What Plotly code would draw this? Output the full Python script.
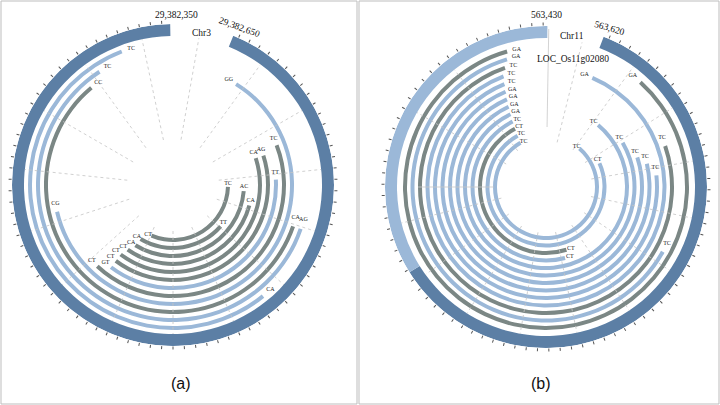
import plotly.graph_objects as go

# ---------------- data : panel (a) Chr3 ----------------
a_track = [1, 2, 3, 4, 5, 6, 7, 8, 9, 10, 11, 12]            # 1 = innermost track
a_type = ["G", "G", "G", "G", "G", "G", "L", "G", "L", "G", "L", "L"]
a_start = [92, 131, 95, 105, 72, 72, 87, 69, 32, 109, 109, 141]   # degrees, clockwise from north
a_end = [203, 211, 212, 215, 217, 217, 217, 223, 257, 320, 327, 339]
a_label_start = ["TC", "TT", "AC", "CA", "CA", "AG", "TT", "TC", "GG", "CA", "AG", "CA"]
a_label_end = ["CT", "CA", "CA", "CT", "CT", "CT", "GT", "CT", "CG", "CC", "TC", "TC"]
a_ring = [22, 359]                                 # chromosome segment (degrees)
a_ring_type = ["D"]
a_texts = ["29,382,350", "29,382,650", "Chr3"]

# ---------------- data : panel (b) Chr11 ----------------
b_track = [1, 2, 3, 4, 5, 6, 7, 8, 9, 10, 11, 12, 13]
b_type = ["L", "L", "G", "L", "L", "L", "L", "L", "L", "L", "G", "L", "G"]
b_start = [41, 66, 162, 165, 40, 60, 72, 77, 84, 23, 71, 119, 42]
b_end = [330, 331, 332, 333, 334, 335, 336, 337, 338, 339, 341, 343, 344]
b_label_start = ["TC", "CT", "CT", "CT", "TC", "TC", "TC", "TC", "TC", "GA", "TC", "TC", "GA"]
b_label_end = ["TC", "TC", "CT", "TC", "GA", "GA", "GA", "GA", "TC", "TC", "TC", "GA", "GA"]
b_ring_start = [21, 238]
b_ring_end = [238, 360.5]
b_ring_type = ["D", "L"]
b_texts = ["563,430", "563,620", "Chr11", "LOC_Os11g02080"]

# ---------------- styles ----------------
COL = {"G": "#7b8785", "L": "#9bb8d8", "D": "#5c7fa5"}
W, H = 720, 405
R = 161
RING_IN = 149
SERIF = "Liberation Serif"

fig = go.Figure()


def add_panel(sub, tracks, types, starts, ends, lab_s, lab_e, r0, step,
              ring_s, ring_e, ring_t, spokes, solid_spokes):
    # spokes (dotted)
    rr, tt = [], []
    for a in spokes:
        rr += [46, RING_IN, None]
        tt += [a, a, None]
    fig.add_trace(go.Scatterpolar(r=rr, theta=tt, mode="lines", subplot=sub,
                                  line=dict(color="#c4c4c4", width=0.8, dash="dot"),
                                  hoverinfo="skip", showlegend=False))
    if solid_spokes:
        rr, tt = [], []
        for a, r1, r2 in solid_spokes:
            rr += [r1, r2, None]
            tt += [a, a, None]
        fig.add_trace(go.Scatterpolar(r=rr, theta=tt, mode="lines", subplot=sub,
                                      line=dict(color="#c8c8c8", width=0.8),
                                      hoverinfo="skip", showlegend=False))
    # outer chromosome ring
    fig.add_trace(go.Barpolar(
        theta=[(s + e) / 2 for s, e in zip(ring_s, ring_e)],
        width=[e - s for s, e in zip(ring_s, ring_e)],
        r=[R - RING_IN] * len(ring_s), base=[RING_IN] * len(ring_s),
        marker=dict(color=[COL[t] for t in ring_t], line=dict(width=0)),
        subplot=sub, showlegend=False, hoverinfo="skip"))
    # repeat arcs
    radii = [r0 + (t - 1) * step for t in tracks]
    fig.add_trace(go.Barpolar(
        theta=[(s + e) / 2 for s, e in zip(starts, ends)],
        width=[e - s for s, e in zip(starts, ends)],
        r=[4] * len(tracks), base=[r - 2 for r in radii],
        marker=dict(color=[COL[t] for t in types], line=dict(width=0)),
        subplot=sub, showlegend=False, hoverinfo="skip"))
    # labels at arc ends
    fig.add_trace(go.Scatterpolar(
        r=radii + radii,
        theta=[s - 4 for s in starts] + [e + 4 for e in ends],
        text=lab_s + lab_e, mode="text", subplot=sub,
        textfont=dict(family=SERIF, size=6, color="#222"),
        showlegend=False, hoverinfo="skip"))


add_panel("polar", a_track, a_type, a_start, a_end, a_label_start, a_label_end,
          55, 8, [a_ring[0]], [a_ring[1]], a_ring_type,
          [-12, 10, 36, 60, 84, 108, 132, 156, 180, 204, 228, 252, 276, 300, 324],
          None)
add_panel("polar2", b_track, b_type, b_start, b_end, b_label_start, b_label_end,
          51, 7.5, b_ring_start, b_ring_end, b_ring_type,
          [14, 36, 58, 80, 102, 124, 146, 168, 190, 212, 234, 256, 300, 322],
          [(1, 60, 158), (270, 52, 128)])


def polar_layout(cx, cy, ring0, ring1):
    return dict(
        domain=dict(x=[(cx - R) / W, (cx + R) / W],
                    y=[(H - cy - R) / H, (H - cy + R) / H]),
        bgcolor="rgba(0,0,0,0)",
        radialaxis=dict(visible=False, range=[0, R]),
        angularaxis=dict(rotation=90, direction="clockwise", showgrid=False,
                         showline=False, ticks="outside", ticklen=3,
                         tickwidth=0.6, tickcolor="#555",
                         tickvals=list(range(int(ring0) + 2, int(ring1), 4)),
                         showticklabels=False),
    )


ann = []


def txt(x, y, s, size=9.5, angle=0, family=SERIF):
    ann.append(dict(x=x / W, y=1 - y / H, xref="paper", yref="paper", text=s,
                    xanchor="center", yanchor="middle",
                    showarrow=False, textangle=angle,
                    font=dict(family=family, size=size, color="#111")))


txt(176, 15, a_texts[0])
txt(239, 27, a_texts[1], angle=20)
txt(201, 33, a_texts[2])
txt(546, 15, b_texts[0])
txt(609, 28, b_texts[1], angle=16)
txt(572, 36, b_texts[2])
txt(573, 59, b_texts[3])
txt(181, 383, "(a)", size=16, family="Liberation Sans")
txt(541, 383, "(b)", size=16, family="Liberation Sans")

fig.update_layout(
    width=W, height=H, margin=dict(l=0, r=0, t=0, b=0),
    paper_bgcolor="white", plot_bgcolor="white",
    polar=polar_layout(173, 185, a_ring[0], a_ring[1]),
    polar2=polar_layout(546, 187, b_ring_start[0], b_ring_end[-1]),
    annotations=ann,
    shapes=[
        dict(type="rect", xref="paper", yref="paper", x0=1 / W, x1=357 / W,
             y0=1 / H, y1=1 - 1 / H, line=dict(color="#bdbdbd", width=1)),
        dict(type="rect", xref="paper", yref="paper", x0=359 / W, x1=719 / W,
             y0=1 / H, y1=1 - 1 / H, line=dict(color="#bdbdbd", width=1)),
    ],
)

fig.write_html("out.html", config={"displayModeBar": False},
               post_script="document.body.style.margin='0';document.body.style.overflow='hidden';")
